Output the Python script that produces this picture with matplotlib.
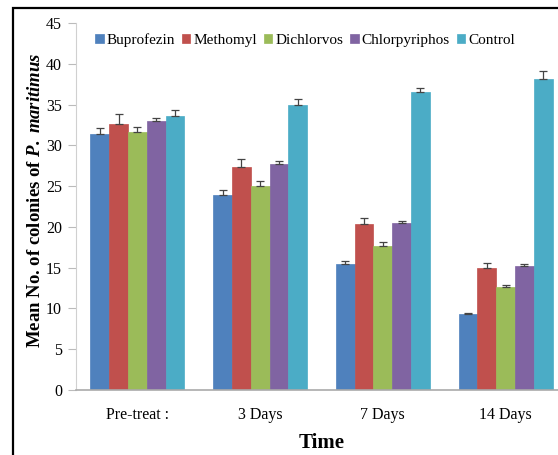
import matplotlib
matplotlib.use("Agg")
import matplotlib.pyplot as plt
import numpy as np
from matplotlib.patches import Rectangle

categories = ["Pre-treat :", "3 Days", "7 Days", "14 Days"]
series = ["Buprofezin", "Methomyl", "Dichlorvos", "Chlorpyriphos", "Control"]
buprofezin = [31.4, 23.9, 15.5, 9.3]
methomyl = [32.6, 27.3, 20.3, 15.0]
dichlorvos = [31.6, 25.0, 17.7, 12.6]
chlorpyriphos = [33.0, 27.7, 20.5, 15.2]
control = [33.6, 35.0, 36.5, 38.1]
err_buprofezin = [0.7, 0.6, 0.37, 0.2]
err_methomyl = [1.2, 1.05, 0.75, 0.55]
err_dichlorvos = [0.7, 0.6, 0.45, 0.33]
err_chlorpyriphos = [0.4, 0.4, 0.25, 0.2]
err_control = [0.7, 0.65, 0.57, 0.98]
yticks = [0, 5, 10, 15, 20, 25, 30, 35, 40, 45]

values = [buprofezin, methomyl, dichlorvos, chlorpyriphos, control]
errors = [err_buprofezin, err_methomyl, err_dichlorvos, err_chlorpyriphos, err_control]
colors = ["#4F81BD", "#C0504D", "#9BBB59", "#8064A2", "#4BACC6"]

plt.rcParams['font.family'] = ['Liberation Serif', 'DejaVu Serif']
plt.rcParams['mathtext.fontset'] = 'custom'
plt.rcParams['mathtext.rm'] = 'Liberation Serif'
plt.rcParams['mathtext.it'] = 'Liberation Serif:italic'
plt.rcParams['mathtext.bf'] = 'Liberation Serif:bold'
plt.rcParams['mathtext.bfit'] = 'Liberation Serif:bold:italic'

W, H = 558, 455
fig = plt.figure(figsize=(W / 100, H / 100), dpi=100)
left, right, top, bottom = 76, 567, 23, 390
ax = fig.add_axes([left / W, 1 - bottom / H, (right - left) / W, (bottom - top) / H])

x = np.arange(len(categories))
bw = 0.153
for i, (vals, errs, c, name) in enumerate(zip(values, errors, colors, series)):
    pos = x + (i - 2) * bw
    ax.bar(pos, vals, width=bw, color=c, edgecolor=c, linewidth=0.5, label=name, zorder=2)
    ax.errorbar(pos, vals, yerr=[np.zeros(len(errs)), errs], fmt='none',
                ecolor='#444444', elinewidth=0.9, capsize=3, capthick=0.9, zorder=3)

ax.set_xlim(-0.5, 3.5)
ax.set_ylim(0, 45)
ax.set_yticks(yticks)
ax.set_yticklabels([str(v) for v in yticks], fontsize=11.5)
ax.set_xticks(x)
ax.set_xticklabels(categories, fontsize=11.5)
ax.tick_params(axis='x', length=0, pad=12)
ax.tick_params(axis='y', length=6, color='#BBBBBB', pad=4)
for s in ['top', 'right']:
    ax.spines[s].set_visible(False)
ax.spines['left'].set_color('#D0D0D0')
ax.spines['bottom'].set_color('#AAAAAA')
ax.spines['bottom'].set_linewidth(1.2)

ax.set_ylabel(r"Mean No. of colonies of $\mathbfit{P.\ maritimus}$",
              fontsize=13.5, fontweight='bold')
ax.yaxis.set_label_coords(-(left - 44) / (right - left), (bottom - 200) / (bottom - top))
ax.set_xlabel("Time", fontsize=15, fontweight='bold')
ax.xaxis.set_label_coords(0.5, -(443 - bottom) / (bottom - top))
ax.xaxis.label.set_va('center')

leg = ax.legend(loc='center', bbox_to_anchor=((305 - left) / (right - left), 1 - (40 - top) / (bottom - top)),
                ncol=5, frameon=False, fontsize=11, handlelength=0.55, handleheight=0.55,
                handletextpad=0.2, columnspacing=0.45, borderaxespad=0)

fig.patches.append(Rectangle((13 / W, -0.1), 1.2, 1 - 8 / H + 0.1, transform=fig.transFigure,
                             fill=False, edgecolor='black', linewidth=1.6))

fig.savefig("out.png", dpi=100)
